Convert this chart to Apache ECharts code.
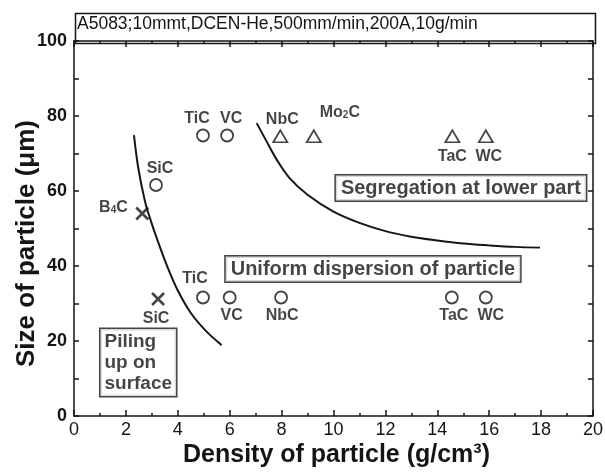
<!DOCTYPE html>
<html><head><meta charset="utf-8">
<script src="https://cdn.jsdelivr.net/npm/echarts@6/dist/echarts.min.js"></script>
<style>html,body{margin:0;padding:0;background:#fff}#c{width:605px;height:472px}</style>
</head><body><div id="c"></div>
<script>
const titleText = 'A5083;10mmt,DCEN-He,500mm/min,200A,10g/min';
const xName = 'Density of particle (g/cm³)';
const yName = 'Size of particle (μm)';
const xTicks = [0, 20, 2];
const yTicks = [0, 100, 20];

// hollow circles (uniform dispersion / upper row)
const circleNames = ['TiC', 'VC', 'SiC', 'TiC', 'VC', 'NbC', 'TaC', 'WC'];
const circleX = [4.97, 5.9, 3.16, 4.97, 6.0, 7.98, 14.56, 15.87];
const circleY = [74.8, 74.8, 61.6, 31.6, 31.6, 31.6, 31.6, 31.6];
// hollow triangles (segregation)
const triNames = ['NbC', 'Mo2C', 'TaC', 'WC'];
const triX = [7.95, 9.24, 14.58, 15.87];
const triY = [74.6, 74.6, 74.6, 74.6];
// crosses (piling up)
const crossNames = ['B4C', 'SiC'];
const crossX = [2.63, 3.24];
const crossY = [54.0, 31.2];
// boundary curves
const leftCurveX = [2.31, 2.48, 2.74, 2.93, 3.19, 3.57, 4.02, 4.53, 5.11, 5.69];
const leftCurveY = [74.9, 66.0, 57.1, 52.7, 47.4, 40.3, 33.2, 27.2, 22.5, 18.9];
const rightCurveX = [7.04, 7.4, 7.8, 8.3, 9.0, 10.0, 11.0, 12.0, 13.0, 14.0, 15.0, 16.0, 17.0, 17.96];
const rightCurveY = [78.1, 73.5, 68.5, 63.5, 59.0, 54.5, 51.5, 49.3, 47.8, 46.8, 46.0, 45.5, 45.1, 44.9];
// region notes (anchor: centre for the first two, left edge for the third)
const noteText = ['Segregation at lower part', 'Uniform dispersion of particle', 'Piling\nup on\nsurface'];
const noteX = [14.91, 11.52, 1.02];
const noteY = [60.8, 39.2, 14.3];

// label placement (layout, not data)
const circleLabel = [
  {position: 'top', distance: 2, offset: [-6, 0]},
  {position: 'top', distance: 2, offset: [4, 0]},
  {position: 'top', distance: 2, offset: [4, 0]},
  {position: 'top', distance: 4, offset: [-8, 0]},
  {position: 'bottom', distance: 3, offset: [2, 0]},
  {position: 'bottom', distance: 3, offset: [1, 0]},
  {position: 'bottom', distance: 3, offset: [2, 0]},
  {position: 'bottom', distance: 3, offset: [5, 0]}
];
const triLabel = [
  {position: 'top', distance: 2, offset: [2, 0]},
  {position: 'right', distance: 0, offset: [-2, -24]},
  {position: 'bottom', distance: 6, offset: [0, 0]},
  {position: 'bottom', distance: 6, offset: [3, 0]}
];
const crossLabel = [
  {position: 'left', distance: 6, offset: [0, -6]},
  {position: 'bottom', distance: 3, offset: [-2, 0]}
];

const FONT = '"Liberation Sans", Arial, Helvetica, sans-serif';
const INK = '#151515';
const subFmt = s => s.replace(/(\d)/g, '{sub|$1}');
const labelBase = {
  show: true, color: INK, fontFamily: FONT, fontSize: 16, fontWeight: 'bold', textBorderWidth: 0,
  rich: {sub: {fontSize: 10, fontWeight: 'bold', color: INK, fontFamily: FONT, textBorderWidth: 0,
    verticalAlign: 'bottom', padding: [6, 0, 0, 0]}}
};
function points(names, xs, ys, lbl) {
  return names.map((n, i) => ({
    name: n, value: [xs[i], ys[i]],
    label: Object.assign({}, labelBase, lbl[i], {formatter: () => subFmt(n)})
  }));
}

const axisCommon = {
  axisLine: {show: true, onZero: false, lineStyle: {color: INK, width: 1.5}},
  splitLine: {show: false},
  axisTick: {show: true, inside: true, length: 6, lineStyle: {color: INK, width: 1.5}}
};

const chart = echarts.init(document.getElementById('c'), null, {renderer: 'canvas'});
chart.setOption({
  animation: false,
  backgroundColor: '#fff',
  title: {text: titleText, left: 77, top: 15, padding: 0,
    textStyle: {fontFamily: FONT, fontSize: 17.5, fontWeight: 'normal', color: INK}},
  graphic: [{type: 'rect', left: 73, top: 11, shape: {width: 520, height: 30},
    style: {fill: 'none', stroke: INK, lineWidth: 1.5}, silent: true}],
  grid: {left: 74, right: 12, top: 41, bottom: 56, containLabel: false, outerBoundsMode: 'none'},
  xAxis: [
    Object.assign({}, axisCommon, {
      type: 'value', min: xTicks[0], max: xTicks[1], interval: xTicks[2],
      name: xName, nameLocation: 'middle', nameGap: 27, nameMoveOverlap: false,
      nameTextStyle: {fontFamily: FONT, fontSize: 25, fontWeight: 'bold', color: INK, padding: [0, 0, 0, 6]},
      minorTick: {show: true, splitNumber: 2, length: 3, lineStyle: {color: INK, width: 1.5}},
      axisLabel: {margin: 5, fontFamily: FONT, fontSize: 18, color: INK}
    }),
    Object.assign({}, axisCommon, {
      type: 'value', position: 'top', min: xTicks[0], max: xTicks[1], interval: xTicks[2],
      minorTick: {show: true, splitNumber: 2, length: 3, lineStyle: {color: INK, width: 1.5}},
      axisLabel: {show: false}
    })
  ],
  yAxis: [
    Object.assign({}, axisCommon, {
      type: 'value', min: yTicks[0], max: yTicks[1], interval: 10,
      name: yName, nameLocation: 'middle', nameGap: 34, nameRotate: 90, nameMoveOverlap: false,
      nameTextStyle: {fontFamily: FONT, fontSize: 26, fontWeight: 'bold', color: INK, padding: [0, 0, 0, -30]},
      axisTick: {show: true, inside: true, length: 5, lineStyle: {color: INK, width: 1.5}},
      axisLabel: {margin: 7, fontFamily: FONT, fontSize: 18, fontWeight: 'bold', color: INK,
        formatter: v => (v % yTicks[2] === 0 ? String(v) : '')}
    }),
    Object.assign({}, axisCommon, {
      type: 'value', position: 'right', min: yTicks[0], max: yTicks[1], interval: 10,
      axisTick: {show: true, inside: true, length: 5, lineStyle: {color: INK, width: 1.5}},
      axisLabel: {show: false}
    })
  ],
  series: [
    {type: 'line', smooth: 0.35, showSymbol: false, symbol: 'none', silent: true,
      lineStyle: {color: INK, width: 2}, data: leftCurveX.map((x, i) => [x, leftCurveY[i]])},
    {type: 'line', smooth: 0.35, showSymbol: false, symbol: 'none', silent: true,
      lineStyle: {color: INK, width: 2}, data: rightCurveX.map((x, i) => [x, rightCurveY[i]])},
    {type: 'scatter', symbol: 'circle', symbolSize: 12,
      itemStyle: {color: '#fff', borderColor: INK, borderWidth: 1.8},
      data: points(circleNames, circleX, circleY, circleLabel)},
    {type: 'scatter', symbol: 'triangle', symbolSize: [14, 12],
      itemStyle: {color: '#fff', borderColor: INK, borderWidth: 1.8},
      data: points(triNames, triX, triY, triLabel)},
    {type: 'scatter', symbol: 'path://M0,0L10,10M10,0L0,10', symbolSize: 12,
      itemStyle: {color: 'none', borderColor: INK, borderWidth: 2.6},
      data: points(crossNames, crossX, crossY, crossLabel)},
    {type: 'scatter', symbolSize: 1, itemStyle: {color: 'rgba(0,0,0,0)'}, z: 5,
      data: noteText.map((t, i) => ({
        name: t, value: [noteX[i], noteY[i]],
        label: {show: true, position: 'inside', formatter: () => t,
          fontFamily: FONT, fontSize: i === 2 ? 19 : 20, fontWeight: 'bold', color: INK,
          textBorderWidth: 0, textShadowBlur: 0,
          lineHeight: i === 2 ? 21 : 22, align: i === 2 ? 'left' : 'center',
          backgroundColor: '#fff', borderColor: INK, borderWidth: 1.5,
          padding: i === 2 ? [2, 4, 2, 4] : [2, 5, 1, 5]}
      }))}
  ]
});
</script></body></html>
